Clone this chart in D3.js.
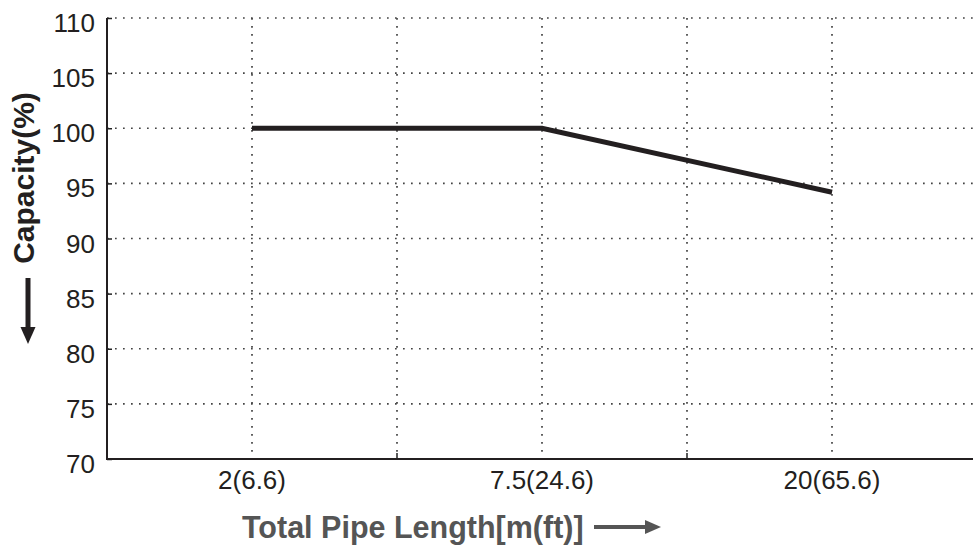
<!DOCTYPE html>
<html>
<head>
<meta charset="utf-8">
<script src="https://cdn.jsdelivr.net/npm/d3@7"></script>
<style>
  html, body { margin: 0; padding: 0; background: #fff; }
  svg { display: block; font-family: "Liberation Sans", Arial, Helvetica, sans-serif; }
</style>
</head>
<body>
<svg id="chart" width="973" height="545"></svg>
<script>
// Pipe length categories (m and ft) and capacity correction (%)
const lengthLabels = ["2(6.6)", "7.5(24.6)", "20(65.6)"];
const capacity = [100, 100, 94.2];
const yTicks = [70, 75, 80, 85, 90, 95, 100, 105, 110];

const margin = { left: 107, top: 18, right: 977, bottom: 459 };
const svg = d3.select("#chart");

const x = d3.scaleBand().domain(lengthLabels).range([margin.left, margin.right]).padding(0);
const y = d3.scaleLinear().domain([70, 110]).range([margin.bottom, margin.top]);
const bw = x.bandwidth();
const cx = d => x(d) + bw / 2;

const gridColor = "#444";
const grid = svg.append("g")
  .attr("stroke", gridColor)
  .attr("stroke-width", 1.7)
  .attr("stroke-dasharray", "1.7,6.3")
  .attr("fill", "none");

// horizontal grid
grid.selectAll("line.h")
  .data(yTicks.filter(v => v > 70))
  .join("line")
  .attr("class", "h")
  .attr("x1", margin.left).attr("x2", 973)
  .attr("y1", d => y(d)).attr("y2", d => y(d));

// vertical grid at category centres and band boundaries
const vPos = [];
lengthLabels.forEach((d, i) => {
  vPos.push(cx(d));
  if (i > 0) vPos.push(x(d));
});
grid.selectAll("line.v")
  .data(vPos)
  .join("line")
  .attr("class", "v")
  .attr("x1", d => d).attr("x2", d => d)
  .attr("y1", margin.top).attr("y2", margin.bottom);

// axes
const yAxis = d3.axisLeft(y).tickValues(yTicks).tickSize(-5).tickPadding(12);
const gy = svg.append("g").attr("transform", `translate(${margin.left},0)`).call(yAxis);
gy.select(".domain").remove();
gy.selectAll(".tick line").attr("stroke", "#222").attr("stroke-width", 1.5);
gy.selectAll(".tick text")
  .attr("font-size", 26).attr("fill", "#231f20")
  .attr("font-family", "'Liberation Sans', Arial, sans-serif")
  .attr("dy", "0.52em");

const xAxis = d3.axisBottom(x).tickSize(0).tickPadding(11);
const gx = svg.append("g").attr("transform", `translate(0,${margin.bottom})`).call(xAxis);
gx.select(".domain").remove();
gx.selectAll(".tick line").remove();
gx.selectAll(".tick text")
  .attr("font-size", 26).attr("fill", "#231f20")
  .attr("font-family", "'Liberation Sans', Arial, sans-serif")
  .attr("dy", "0.72em");

// small ticks on band boundaries
svg.append("g").selectAll("line")
  .data(lengthLabels.slice(1))
  .join("line")
  .attr("x1", d => x(d)).attr("x2", d => x(d))
  .attr("y1", margin.bottom).attr("y2", margin.bottom - 6)
  .attr("stroke", "#222").attr("stroke-width", 1.5);

// axis lines
svg.append("path")
  .attr("d", `M${margin.left},${margin.top}V${margin.bottom}H973`)
  .attr("fill", "none").attr("stroke", "#231f20").attr("stroke-width", 2);

// capacity line
const line = d3.line().x((d, i) => cx(lengthLabels[i])).y(d => y(d));
svg.append("path")
  .datum(capacity)
  .attr("d", line)
  .attr("fill", "none")
  .attr("stroke", "#231f20")
  .attr("stroke-width", 5)
  .attr("stroke-linejoin", "miter");

// y axis title with arrow
svg.append("text")
  .attr("transform", "translate(34,178) rotate(-90)")
  .attr("text-anchor", "middle")
  .attr("font-size", 30).attr("font-weight", "bold")
  .attr("fill", "#231f20")
  .text("Capacity(%)");
svg.append("line")
  .attr("x1", 28).attr("x2", 28).attr("y1", 278).attr("y2", 330)
  .attr("stroke", "#231f20").attr("stroke-width", 5);
svg.append("path")
  .attr("d", "M20.5,327 L35.5,327 L28,344 Z")
  .attr("fill", "#231f20");

// x axis title with arrow
svg.append("text")
  .attr("x", 242).attr("y", 538)
  .attr("font-size", 30.5).attr("font-weight", "bold")
  .attr("fill", "#555555")
  .text("Total Pipe Length[m(ft)]");
svg.append("line")
  .attr("x1", 594).attr("x2", 648).attr("y1", 527).attr("y2", 527)
  .attr("stroke", "#555555").attr("stroke-width", 4);
svg.append("path")
  .attr("d", "M645,520 L645,534 L661,527 Z")
  .attr("fill", "#555555");
</script>
</body>
</html>
